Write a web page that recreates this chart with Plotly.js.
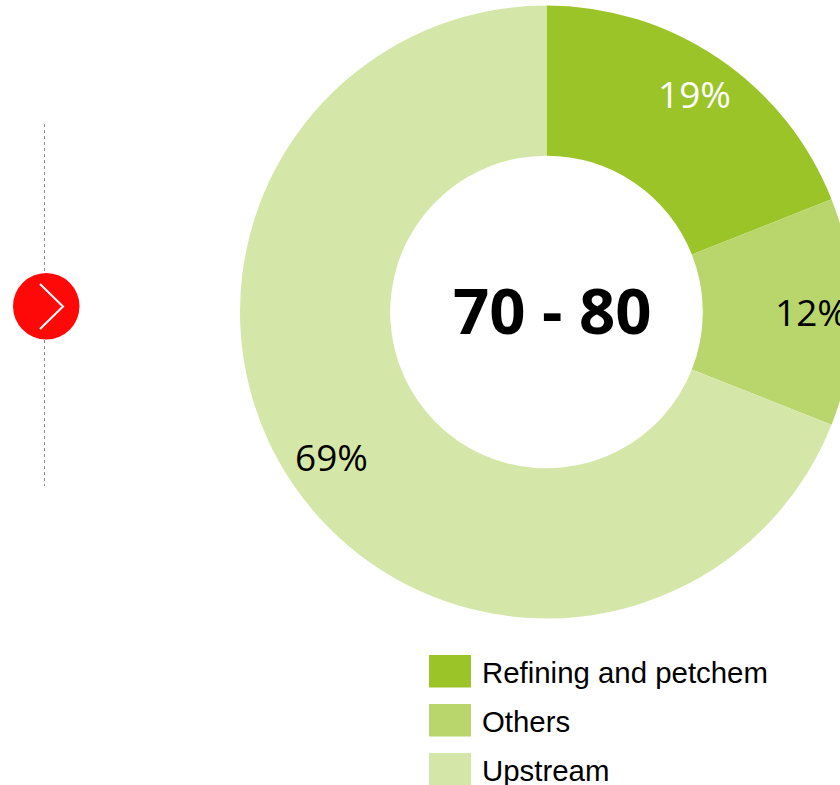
<!DOCTYPE html>
<html><head><meta charset="utf-8">
<script src="https://cdn.plot.ly/plotly-3.0.1.min.js"></script>
<style>html,body{margin:0;padding:0;background:#fff;overflow:hidden;width:840px;height:785px}#c{width:900px;height:785px}</style>
</head><body><div id="c"></div>
<script>
const categories = ["Refining and petchem","Others","Upstream"];
const shares = [19,12,69];
const colors = ["#9BC428","#B8D66C","#D5E7A8"];
const textColors = ["#ffffff","#000000","#000000"];
const centerLabel = "70 - 80";
const W=900,H=785,cx=546.5,cy=312,R=306.5;
const px=x=>x/W, py=y=>1-y/H;
const shapes=[
 {type:'line',xref:'paper',yref:'paper',x0:px(44.5),x1:px(44.5),y0:py(124),y1:py(486),line:{color:'#8c8c8c',width:1,dash:'dot'}},
 {type:'circle',xref:'paper',yref:'paper',x0:px(13),x1:px(79.5),y0:py(273),y1:py(339.5),fillcolor:'#FF0808',line:{width:0}},
 {type:'path',xref:'paper',yref:'paper',path:`M ${px(40)} ${py(284)} L ${px(63)} ${py(306.5)} L ${px(40)} ${py(329)}`,line:{color:'#fff',width:2}}
];
categories.forEach((c,i)=>{const y=655+49*i;
 shapes.push({type:'rect',xref:'paper',yref:'paper',x0:px(429),x1:px(471),y0:py(y),y1:py(y+32.5),fillcolor:colors[i],line:{width:0}});});
const pctFont=c=>({family:'"Open Sans",sans-serif',size:37,color:c});
const annotations=[
 {text:centerLabel,x:px(552),y:py(309.5),xref:'paper',yref:'paper',showarrow:false,xanchor:'center',yanchor:'middle',font:{family:'"Open Sans",sans-serif',size:63.5,color:'#000',weight:700}},
 {text:shares[0]+'%',x:px(694),y:py(94),xref:'paper',yref:'paper',showarrow:false,xanchor:'center',yanchor:'middle',font:pctFont(textColors[0])},
 {text:shares[1]+'%',x:px(773),y:py(311),xref:'paper',yref:'paper',showarrow:false,xanchor:'left',yanchor:'middle',font:pctFont(textColors[1])},
 {text:shares[2]+'%',x:px(331),y:py(456),xref:'paper',yref:'paper',showarrow:false,xanchor:'center',yanchor:'middle',font:pctFont(textColors[2])}
];
categories.forEach((c,i)=>annotations.push({text:c,x:px(480),y:py(672+49*i),xref:'paper',yref:'paper',showarrow:false,xanchor:'left',yanchor:'middle',font:{family:'"Liberation Sans",Arial,sans-serif',size:29.4,color:'#000'}}));
Plotly.newPlot('c',[{type:'pie',labels:categories,values:shares,hole:0.51,sort:false,direction:'clockwise',rotation:0,
 marker:{colors:colors,line:{width:0}},textinfo:'none',hoverinfo:'label+percent',showlegend:false,
 domain:{x:[(cx-R)/W,(cx+R)/W],y:[1-(cy+R)/H,1-(cy-R)/H]}}],
 {width:W,height:H,margin:{l:0,r:0,t:0,b:0},paper_bgcolor:'#fff',shapes,annotations,showlegend:false},{displayModeBar:false});
</script></body></html>
